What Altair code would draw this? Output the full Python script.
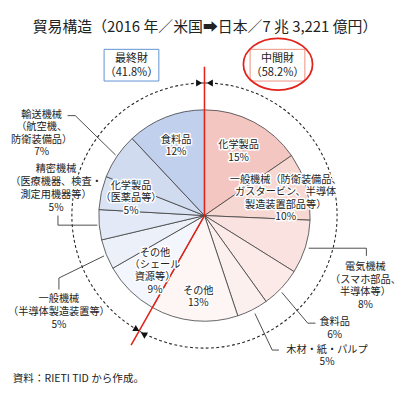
import math
import altair as alt
import pandas as pd

# ---------------- data ----------------
group = ["中間財"] * 6 + ["最終財"] * 6
category = ["化学製品", "一般機械", "電気機械", "食料品", "木材・紙・パルプ", "その他",
            "その他", "一般機械", "精密機械", "化学製品", "輸送機械", "食料品"]
share = [15.4, 10.3, 8.2, 6.2, 4.8, 13.3, 8.5, 4.6, 4.6, 5.1, 7.0, 12.0]
pct_label = ["15%", "10%", "8%", "6%", "5%", "13%", "9%", "5%", "5%", "5%", "7%", "12%"]
label_body = [
    ["化学製品"],
    ["一般機械（防衛装備品、", "ガスタービン、半導体", "製造装置部品等）"],
    ["電気機械", "（スマホ部品、", "半導体等）"],
    ["食料品"],
    ["木材・紙・パルプ"],
    ["その他"],
    ["その他", "（シェール", "資源等）"],
    ["一般機械", "（半導体製造装置等）"],
    ["精密機械", "（医療機器、検査・", "測定用機器等）"],
    ["化学製品", "（医薬品等）"],
    ["輸送機械", "（航空機、", "防衛装備品）"],
    ["食料品"],
]
group_names = ["最終財", "中間財"]
group_totals = ["（41.8%）", "（58.2%）"]
title_text = "貿易構造（2016 年／米国➡日本／7 兆 3,221 億円）"
source_text = "資料：RIETI TID から作成。"

# ---------------- styles / layout ----------------
slice_color = ["#f4c6c1", "#f7d7d2", "#f9e2df", "#fbeae7", "#fcf0ee", "#fdf6f5",
               "#f3f6fc", "#ebf0f9", "#e3e9f6", "#dae3f3", "#d0dbf0", "#c1d0ec"]
CX, CY = 204.5, 208
R = 110
R_DASH = 138
FONT = "Noto Sans CJK JP"
# label anchor: (x, y of first line, line height) in page pixels
label_pos = [(240, 135, 13), (289, 171, 13), (372, 262, 13), (340, 319, 13),
             (332, 348, 13), (198, 287, 12.5), (153, 247, 12.7), (53, 295, 13.5),
             (50, 160, 13.3), (128, 177, 13.3), (35, 103, 13), (175, 130, 12)]
leaders = [
    [(373, 250), (373, 242), (313, 242)],
    [(320, 320), (312, 320), (285, 288)],
    [(282, 348), (275, 348), (257, 310)],
    [(53, 285), (53, 273), (100, 250)],
    [(52, 208), (52, 218), (93, 218)],
    [(62, 104), (70, 104), (112, 145)],
]

keys = [f"k{i}" for i in range(len(share))]
pie_df = pd.DataFrame({"key": keys, "idx": list(range(len(share))),
                       "group": group, "category": category, "share": share})

pie = alt.Chart(pie_df).mark_arc(outerRadius=R, stroke="#3a3a3a", strokeWidth=0.8).encode(
    theta=alt.Theta("share:Q", stack=True),
    order=alt.Order("idx:Q"),
    color=alt.Color("key:N", scale=alt.Scale(domain=keys, range=slice_color), legend=None),
    x=alt.value(CX), y=alt.value(CY),
)

dash_circle = alt.Chart(pd.DataFrame({"a": [0]})).mark_arc(
    radius=R_DASH, theta=0, theta2=2 * math.pi, fillOpacity=0,
    stroke="#222", strokeWidth=1.1, strokeDash=[3, 2.5]
).encode(x=alt.value(CX), y=alt.value(CY))

# red divider between intermediate and final goods
split = sum(share[:6]) / sum(share) * 2 * math.pi
L = 155
red_df = pd.DataFrame({
    "x": [CX, CX, CX + L * math.sin(split)],
    "y": [53, CY, CY - L * math.cos(split)],
    "o": [0, 1, 2]})
red_line = alt.Chart(red_df).mark_line(color="#e2231a", strokeWidth=1.6).encode(
    x=alt.X("x:Q", scale=None, axis=None), y=alt.Y("y:Q", scale=None, axis=None),
    order="o:Q")

# leader lines
lead_rows = []
for j, pts in enumerate(leaders):
    for o, (px, py) in enumerate(pts):
        lead_rows.append({"id": j, "o": o, "x": px, "y": py})
lead = alt.Chart(pd.DataFrame(lead_rows)).mark_line(color="#333", strokeWidth=0.9).encode(
    x=alt.X("x:Q", scale=None, axis=None), y=alt.Y("y:Q", scale=None, axis=None),
    detail="id:N", order="o:Q")

# slice labels
lab_rows = []
for i, body in enumerate(label_body):
    lx, ly, lh = label_pos[i]
    for k, t in enumerate(body + [pct_label[i]]):
        lab_rows.append({"x": lx, "y": ly + k * lh, "t": t})
lab_df = pd.DataFrame(lab_rows)
lab_enc = dict(x=alt.X("x:Q", scale=None, axis=None), y=alt.Y("y:Q", scale=None, axis=None),
               text="t:N")
halo = alt.Chart(lab_df).mark_text(font=FONT, fontSize=10.6, baseline="middle", align="center",
                                   stroke="white", strokeWidth=3, strokeJoin="round",
                                   color="white").encode(**lab_enc)
labels = alt.Chart(lab_df).mark_text(font=FONT, fontSize=10.6, baseline="middle",
                                     align="center", color="#222").encode(**lab_enc)

# group boxes
box_df = pd.DataFrame({"x": [100, 252], "x2": [157, 309],
                       "y": [35, 35], "y2": [68, 68], "g": group_names})
boxes = alt.Chart(box_df).mark_rect(fillOpacity=0, strokeWidth=1).encode(
    x=alt.X("x:Q", scale=None, axis=None), x2="x2:Q",
    y=alt.Y("y:Q", scale=None, axis=None), y2="y2:Q",
    stroke=alt.Stroke("g:N", scale=alt.Scale(domain=group_names, range=["#5b8fd0", "#ec8b7a"]),
                      legend=None))
box_txt_df = pd.DataFrame({
    "x": [128.5, 128.5, 280.5, 280.5],
    "y": [45, 60, 45, 60],
    "t": [group_names[0], group_totals[0], group_names[1], group_totals[1]]})
box_txt = alt.Chart(box_txt_df).mark_text(font=FONT, fontSize=11.5, baseline="middle",
                                          align="center", color="#222").encode(
    x=alt.X("x:Q", scale=None, axis=None), y=alt.Y("y:Q", scale=None, axis=None), text="t:N")

ellipse_path = ("M -1 0 C -1 -0.414 -0.552 -0.75 0 -0.75 C 0.552 -0.75 1 -0.414 1 0 "
                "C 1 0.414 0.552 0.75 0 0.75 C -0.552 0.75 -1 0.414 -1 0 Z")
ellipse = alt.Chart(pd.DataFrame({"a": [0]})).mark_point(
    shape=ellipse_path, size=72 * 72, filled=False, stroke="#e2231a", strokeWidth=1.8,
    opacity=1).encode(x=alt.value(281), y=alt.value(50.5))

# arrow heads on the dashed circle
tri_df = pd.DataFrame({
    "x": [199, 210, 133, 142],
    "y": [70, 70, 325, 333],
    "s": ["triangle-right", "triangle-left", "triangle-up", "triangle-down"]})
tris = alt.Chart(tri_df).mark_point(filled=True, size=55, color="#111", opacity=1).encode(
    x=alt.X("x:Q", scale=None, axis=None), y=alt.Y("y:Q", scale=None, axis=None),
    shape=alt.Shape("s:N", scale=None))

# title and source
title = alt.Chart(pd.DataFrame({"x": [205], "y": [12], "t": [title_text]})).mark_text(
    font=FONT, fontSize=15.5, baseline="middle", align="center", color="#222").encode(
    x=alt.X("x:Q", scale=None, axis=None), y=alt.Y("y:Q", scale=None, axis=None), text="t:N")
source = alt.Chart(pd.DataFrame({"x": [5], "y": [378], "t": [source_text]})).mark_text(
    font=FONT, fontSize=11, baseline="middle", align="left", color="#222").encode(
    x=alt.X("x:Q", scale=None, axis=None), y=alt.Y("y:Q", scale=None, axis=None), text="t:N")

chart = alt.layer(
    dash_circle, pie, lead, red_line, halo, labels, boxes, box_txt, ellipse, tris, title, source
).properties(
    width=408, height=393, padding=0, autosize=alt.AutoSizeParams(type="none"),
    background="white"
).configure_view(stroke=None).resolve_scale(color="independent", stroke="independent")

chart.save("out.html", embed_options={"renderer": "svg", "actions": False})
